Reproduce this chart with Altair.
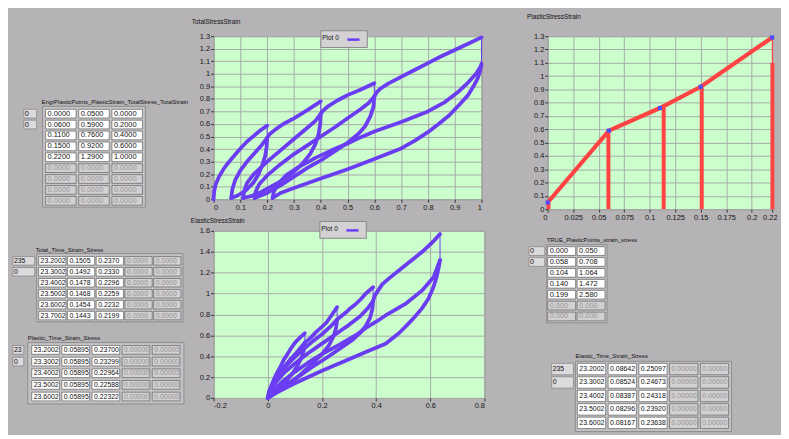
import altair as alt
import pandas as pd

PURPLE = "#6a3df2"
RED = "#ff4242"
BLUE = "#4d4dff"
GREEN = "#ccfdcc"
BG = "#b5b3b5"
FONT = "Liberation Sans"

# ---------------- TotalStressStrain (strain, stress) in time order ----------------
tot_load1 = [(0.0, 0.0), (0.002, 0.06), (0.008, 0.12), (0.02, 0.18), (0.04, 0.25), (0.06, 0.305),
             (0.08, 0.355), (0.1, 0.405), (0.125, 0.46), (0.15, 0.505), (0.175, 0.55), (0.2, 0.587)]
tot_unload1 = [(0.2, 0.49), (0.198, 0.42), (0.193, 0.35), (0.183, 0.28), (0.168, 0.2), (0.148, 0.13),
               (0.12, 0.07), (0.09, 0.03), (0.066, 0.01)]
tot_reload1 = [(0.066, 0.01), (0.07, 0.08), (0.08, 0.15), (0.1, 0.23), (0.125, 0.3), (0.15, 0.36),
               (0.175, 0.42), (0.2, 0.49)]
tot_load2 = [(0.2, 0.49), (0.21, 0.52), (0.23, 0.555), (0.26, 0.6), (0.3, 0.645), (0.35, 0.71), (0.4, 0.78)]
tot_unload2 = [(0.4, 0.68), (0.398, 0.6), (0.392, 0.52), (0.38, 0.44), (0.36, 0.36), (0.33, 0.28),
               (0.29, 0.2), (0.24, 0.13), (0.18, 0.06), (0.14, 0.025), (0.11, 0.01)]
tot_reload2 = [(0.11, 0.01), (0.115, 0.07), (0.125, 0.13), (0.15, 0.2), (0.2, 0.3), (0.25, 0.39),
               (0.3, 0.48), (0.35, 0.57), (0.38, 0.625), (0.4, 0.68)]
tot_load3 = [(0.4, 0.68), (0.41, 0.71), (0.43, 0.745), (0.46, 0.785), (0.5, 0.83), (0.55, 0.875), (0.6, 0.925)]
tot_unload3 = [(0.6, 0.82), (0.597, 0.74), (0.585, 0.66), (0.565, 0.58), (0.54, 0.52), (0.5, 0.45),
               (0.45, 0.38), (0.4, 0.31), (0.35, 0.25), (0.3, 0.18), (0.25, 0.11), (0.2, 0.05), (0.153, 0.01)]
tot_reload3 = [(0.153, 0.01), (0.157, 0.06), (0.17, 0.12), (0.2, 0.19), (0.25, 0.28), (0.3, 0.36),
               (0.35, 0.43), (0.4, 0.5), (0.45, 0.57), (0.5, 0.645), (0.55, 0.72), (0.58, 0.77), (0.6, 0.82)]
tot_load4 = [(0.6, 0.82), (0.61, 0.855), (0.625, 0.885), (0.65, 0.92), (0.7, 0.975), (0.75, 1.03),
             (0.8, 1.085), (0.85, 1.14), (0.9, 1.19), (0.95, 1.24), (1.0, 1.29)]
tot_unload4 = [(1.0, 1.08), (0.995, 1.02), (0.985, 0.96), (0.97, 0.9), (0.95, 0.83), (0.92, 0.76),
               (0.88, 0.67), (0.84, 0.6), (0.8, 0.535), (0.75, 0.465), (0.7, 0.405), (0.6, 0.32),
               (0.5, 0.24), (0.4, 0.165), (0.3, 0.09), (0.25, 0.05), (0.22, 0.01)]
tot_reload4 = [(0.22, 0.01), (0.225, 0.06), (0.24, 0.12), (0.27, 0.19), (0.32, 0.26), (0.38, 0.33),
               (0.44, 0.39), (0.5, 0.445), (0.55, 0.495), (0.6, 0.54), (0.7, 0.615), (0.8, 0.7),
               (0.86, 0.77), (0.91, 0.85), (0.95, 0.93), (0.98, 1.0), (1.0, 1.07)]
total_segments = [tot_load1, tot_unload1, tot_reload1, tot_load2, tot_unload2, tot_reload2,
                  tot_load3, tot_unload3, tot_reload3, tot_load4, tot_unload4, tot_reload4]

# ---------------- ElasticStressStrain ----------------
el_load1 = [(0.0, 0.0), (0.005, 0.07), (0.015, 0.13), (0.025, 0.19), (0.035, 0.245), (0.047, 0.3),
            (0.058, 0.36), (0.07, 0.41), (0.082, 0.46), (0.095, 0.51), (0.106, 0.545), (0.12, 0.58), (0.137, 0.62)]
el_unload1 = [(0.137, 0.53), (0.133, 0.46), (0.125, 0.39), (0.11, 0.31), (0.09, 0.23), (0.065, 0.15),
              (0.04, 0.08), (0.015, 0.03), (0.0, 0.0)]
el_reload1 = [(0.0, 0.0), (0.008, 0.07), (0.02, 0.14), (0.035, 0.21), (0.055, 0.28), (0.08, 0.36),
              (0.105, 0.43), (0.137, 0.53)]
el_load2 = [(0.137, 0.53), (0.16, 0.58), (0.18, 0.635), (0.2, 0.68), (0.216, 0.72), (0.235, 0.79), (0.256, 0.87)]
el_unload2 = [(0.256, 0.75), (0.252, 0.67), (0.243, 0.59), (0.225, 0.5), (0.2, 0.42), (0.165, 0.33),
              (0.12, 0.22), (0.07, 0.12), (0.03, 0.05), (0.0, 0.0)]
el_reload2 = [(0.0, 0.0), (0.01, 0.08), (0.025, 0.16), (0.05, 0.25), (0.08, 0.34), (0.12, 0.44),
              (0.16, 0.53), (0.2, 0.61), (0.23, 0.68), (0.256, 0.75)]
el_load3 = [(0.256, 0.75), (0.27, 0.78), (0.289, 0.82), (0.305, 0.86), (0.325, 0.9), (0.345, 0.95),
            (0.362, 1.0), (0.389, 1.06)]
el_unload3 = [(0.389, 0.93), (0.386, 0.85), (0.378, 0.77), (0.362, 0.69), (0.34, 0.62), (0.31, 0.55),
              (0.27, 0.48), (0.22, 0.39), (0.16, 0.29), (0.1, 0.18), (0.05, 0.09), (0.02, 0.04), (0.0, 0.0)]
el_reload3 = [(0.0, 0.0), (0.01, 0.07), (0.03, 0.15), (0.06, 0.24), (0.1, 0.33), (0.15, 0.43),
              (0.2, 0.52), (0.25, 0.61), (0.3, 0.7), (0.34, 0.78), (0.37, 0.86), (0.389, 0.93)]
el_load4 = [(0.389, 0.93), (0.395, 0.98), (0.41, 1.04), (0.423, 1.09), (0.45, 1.15), (0.484, 1.22),
            (0.515, 1.285), (0.544, 1.345), (0.57, 1.4), (0.593, 1.455), (0.615, 1.51), (0.636, 1.57)]
el_unload4 = [(0.636, 1.32), (0.632, 1.26), (0.623, 1.155), (0.61, 1.05), (0.593, 0.95), (0.57, 0.86),
              (0.544, 0.78), (0.515, 0.7), (0.484, 0.62), (0.435, 0.52), (0.362, 0.44), (0.3, 0.37),
              (0.2, 0.26), (0.1, 0.14), (0.04, 0.06), (0.0, 0.0)]
el_reload4 = [(0.0, 0.0), (0.02, 0.07), (0.06, 0.17), (0.1, 0.25), (0.15, 0.34), (0.2, 0.42),
              (0.265, 0.51), (0.33, 0.61), (0.362, 0.67), (0.4, 0.73), (0.435, 0.79), (0.508, 0.9),
              (0.57, 1.03), (0.612, 1.155), (0.63, 1.28), (0.636, 1.32)]
elastic_segments = [el_load1, el_unload1, el_reload1, el_load2, el_unload2, el_reload2,
                    el_load3, el_unload3, el_reload3, el_load4, el_unload4, el_reload4]

# ---------------- Plastic stress-strain ----------------
engr_plastic_strain = [0.0, 0.06, 0.11, 0.15, 0.22]
engr_total_stress = [0.05, 0.59, 0.76, 0.92, 1.29]
engr_total_strain = [0.0, 0.2, 0.4, 0.6, 1.0]
unload_bar_strain = [0.0008, 0.0595, 0.1137, 0.151, 0.2203]
unload_bar_top = [0.05, 0.585, 0.765, 0.915, 1.1]
relax_strain = [0.2203]
relax_low = [1.1]
relax_high = [1.29]

# ---------------- tables ----------------
total_time = [23.2002, 23.3002, 23.4002, 23.5002, 23.6002, 23.7002]
total_strain = [0.1505, 0.1492, 0.1478, 0.1468, 0.1454, 0.1443]
total_stress = [0.2370, 0.2330, 0.2296, 0.2259, 0.2232, 0.2199]
plastic_time = [23.2002, 23.3002, 23.4002, 23.5002, 23.6002]
plastic_strain = [0.058953, 0.058953, 0.058953, 0.058953, 0.058953]
plastic_stress = [0.237005, 0.232993, 0.229644, 0.225889, 0.223227]
elastic_time = [23.2002, 23.3002, 23.4002, 23.5002, 23.6002]
elastic_strain = [0.086420, 0.085243, 0.083873, 0.082963, 0.081670]
elastic_stress = [0.250973, 0.246732, 0.243182, 0.239202, 0.236380]
true_strain = [0.000, 0.058, 0.104, 0.140, 0.199]
true_stress = [0.050, 0.708, 1.064, 1.472, 2.580]

total_x_ticks = [0, 0.1, 0.2, 0.3, 0.4, 0.5, 0.6, 0.7, 0.8, 0.9, 1]
total_y_ticks = [0, 0.1, 0.2, 0.3, 0.4, 0.5, 0.6, 0.7, 0.8, 0.9, 1, 1.1, 1.2, 1.3]
elastic_x_ticks = [-0.2, 0, 0.2, 0.4, 0.6, 0.8]
elastic_y_ticks = [0, 0.2, 0.4, 0.6, 0.8, 1, 1.2, 1.4, 1.6]
plastic_x_ticks = [0, 0.025, 0.05, 0.075, 0.1, 0.125, 0.15, 0.175, 0.2, 0.22]
plastic_y_ticks = total_y_ticks


def spacer(w, h):
    return alt.Chart(alt.Data(values=[])).mark_point().encode(
        x=alt.X("v:Q", axis=None), y=alt.Y("v:Q", axis=None)
    ).properties(width=w, height=h, view=alt.ViewBackground(stroke=None, fill=None))


def seg_frame(segments):
    rows = []
    i = 0
    for k, seg in enumerate(segments):
        for e, s in seg:
            rows.append({"strain": e, "stress": s, "seg": k, "i": i, "series": "Plot 0"})
            i += 1
    return pd.DataFrame(rows)


def axis(vals, **kw):
    return alt.Axis(values=vals, labelExpr="'' + datum.value", title=None, labelOverlap=False, **kw)


def plot_title(text, dx, offset):
    return alt.TitleParams(text=text, anchor="start", frame="group", dx=dx, offset=offset,
                           fontSize=6.5, font=FONT, fontWeight="normal", color="#111111")


def curve_plot(segments, xdom, ydom, xt, yt, w, h, title, tdx, toff, lx, ly):
    df = seg_frame(segments)
    x = alt.X("strain:Q", scale=alt.Scale(domain=xdom, nice=False, zero=False), axis=axis(xt))
    y = alt.Y("stress:Q", scale=alt.Scale(domain=ydom, nice=False, zero=False), axis=axis(yt))
    thin = alt.Chart(df).mark_line(strokeWidth=1, color=PURPLE).encode(x=x, y=y, order="i:Q")
    thick = alt.Chart(df).mark_line(strokeWidth=3.8, strokeCap="round", strokeJoin="round").encode(
        x=x, y=y, order="i:Q", detail="seg:N",
        color=alt.Color("series:N", scale=alt.Scale(range=[PURPLE]),
                        legend=alt.Legend(orient="none", legendX=lx, legendY=ly, title="Plot 0",
                                          titleOrient="left", titleFontSize=6.5, titleFont=FONT,
                                          titleFontWeight="normal", titleColor="#111111",
                                          titlePadding=7, labelExpr="''", labelLimit=1, labelOffset=0,
                                          symbolStrokeWidth=2.5, symbolSize=150, symbolType="stroke",
                                          fillColor="#d3d1d3", strokeColor="#8a8a8a", padding=2)))
    return alt.layer(thin, thick).properties(
        width=w, height=h, title=plot_title(title, tdx, toff),
        view=alt.ViewBackground(fill=GREEN, stroke="#8d8d8d"))


def plastic_plot(w, h):
    x_sc = alt.Scale(domain=[0, 0.22], nice=False, zero=False)
    y_sc = alt.Scale(domain=[0, 1.3], nice=False, zero=False)
    x_ax = axis(plastic_x_ticks, labelFlush=True, labelFlushOffset=5)
    y_ax = axis(plastic_y_ticks)
    pts = pd.DataFrame({"strain": engr_plastic_strain, "stress": engr_total_stress})
    bars = pd.DataFrame({"strain": unload_bar_strain, "stress": unload_bar_top,
                         "base": [0.0] * len(unload_bar_strain)})
    relax = pd.DataFrame({"strain": relax_strain, "stress": relax_low, "hi": relax_high})
    x = alt.X("strain:Q", scale=x_sc, axis=x_ax)
    y = alt.Y("stress:Q", scale=y_sc, axis=y_ax)
    path = alt.Chart(pts).mark_line(color=RED, strokeWidth=4.2).encode(x=x, y=y)
    bar = alt.Chart(bars).mark_rule(color=RED, strokeWidth=4).encode(x=x, y=y, y2="base:Q")
    thin = alt.Chart(relax).mark_rule(color=RED, strokeWidth=1.2).encode(x=x, y=y, y2="hi:Q")
    marks = alt.Chart(pts).mark_square(color=BLUE, size=18, opacity=1).encode(x=x, y=y)
    return alt.layer(path, bar, thin, marks).properties(
        width=w, height=h, title=plot_title("PlasticStressStrain", -21, 9),
        view=alt.ViewBackground(fill=GREEN, stroke="#8d8d8d"))


def band_width(rng, n, pin):
    step = (rng[1] - rng[0]) / (n - pin)
    return step * (1 - pin)


def band(domain, rng, pin):
    return alt.Scale(type="band", domain=domain, range=rng, paddingInner=pin, paddingOuter=0)


def table(rows, active_cols, n_active_rows, frame_x, frame_y, cell_xr, cell_yr, pin_x, pin_y,
          idx, idx_xr, title, title_xy, fsize=7):
    nrows, ncols = len(rows), len(rows[0])
    recs = []
    for r, row in enumerate(rows):
        for c, txt in enumerate(row):
            act = (c in active_cols) and (r < n_active_rows)
            recs.append({"r": r, "c": c, "txt": txt,
                         "fillc": "#ffffff" if act else "#d2d0d2",
                         "tc": "#111111" if act else "#959395"})
    df = pd.DataFrame(recs)
    bw = band_width(cell_xr, ncols, pin_x)
    xs = band(list(range(ncols)), cell_xr, pin_x)
    ys = band(list(range(nrows)), cell_yr, pin_y)
    y = alt.Y("r:O", scale=ys, axis=None)
    frame = alt.Chart(alt.Data(values=[{"f": "f"}])).mark_rect(
        fill="#c4c2c4", stroke="#8e8c8e", strokeWidth=1).encode(
        x=alt.X("f:N", scale=band(["f"], frame_x, 0), axis=None),
        y=alt.Y("f:N", scale=band(["f"], frame_y, 0), axis=None))
    rect = alt.Chart(df).mark_rect(stroke="#707070", strokeWidth=0.8).encode(
        x=alt.X("c:O", scale=xs, axis=None), y=y, fill=alt.Fill("fillc:N", scale=None))
    text = alt.Chart(df).mark_text(align="left", baseline="middle", fontSize=fsize, font=FONT, dx=2,
                                   limit=bw - 0.5, ellipsis=" ").encode(
        x=alt.X("c:O", scale=xs, axis=None, bandPosition=0), y=y, text="txt:N",
        color=alt.Color("tc:N", scale=None))
    idf = pd.DataFrame({"r": list(range(len(idx))), "ix": ["i"] * len(idx), "txt": idx})
    ixs = band(["i"], idx_xr, 0)
    irect = alt.Chart(idf).mark_rect(fill="#dcdadc", stroke="#8a888a", strokeWidth=0.8).encode(
        x=alt.X("ix:N", scale=ixs, axis=None), y=y)
    itext = alt.Chart(idf).mark_text(align="left", baseline="middle", fontSize=fsize, font=FONT, dx=1,
                                     limit=idx_xr[1] - idx_xr[0] - 1, ellipsis=" ").encode(
        x=alt.X("ix:N", scale=ixs, axis=None, bandPosition=0), y=y, text="txt:N",
        color=alt.value("#111111"))
    tx, ty = title_xy
    ttl = alt.Chart(alt.Data(values=[{"k": "k", "t": title}])).mark_text(
        align="left", baseline="bottom", fontSize=6, font=FONT, color="#111111").encode(
        x=alt.X("k:N", scale=band(["k"], [tx, tx + 1], 0), axis=None, bandPosition=0),
        y=alt.Y("k:N", scale=band(["k"], [ty, ty + 1], 0), axis=None, bandPosition=0),
        text="t:N")
    return alt.layer(frame, rect, text, irect, itext, ttl).resolve_scale(x="independent", y="independent")


def f4(v):
    return f"{v:.4f}"


def f6(v):
    return f"{v:.6f}"


engr_rows = [[f4(a), f4(b), f4(c)] for a, b, c in zip(engr_plastic_strain, engr_total_stress, engr_total_strain)]
engr_rows += [["0.0000"] * 3 for _ in range(4)]
tot_rows = [[f4(a), f4(b), f4(c), "0.0000", "0.0000"] for a, b, c in zip(total_time, total_strain, total_stress)]
pl_rows = [[f4(a), f6(b), f6(c), "0.000000", "0.000000"] for a, b, c in zip(plastic_time, plastic_strain, plastic_stress)]
el_rows = [[f4(a), f6(b), f6(c), "0.000000", "0.000000"] for a, b, c in zip(elastic_time, elastic_strain, elastic_stress)]
true_rows = [[f"{a:.3f}", f"{b:.3f}"] for a, b in zip(true_strain, true_stress)]
true_rows += [["0.000", "0.000"] for _ in range(2)]

# grid geometry (page px): columns start at 8, 216, 554 ; rows start at 8, 34, 209, 231, 400
LW, MW, RW = 208, 338, 235
H0, H1, H2, H3, H4 = 26, 175, 22, 169, 31
NOVIEW = alt.ViewBackground(fill=None, stroke=None)

# cell (row1, left): origin (8, 34)
t_engr = table(engr_rows, [0, 1, 2], 5, [35, 139], [71, 173], [38, 136], [74, 171], 0.08, 0.2,
               ["0", "0"], [16, 29], "EngrPlasticPoints_PlasticStrain_TotalStress_TotalStrain", (34, 70),
               fsize=7.5)
cell_a = t_engr.properties(width=LW, height=H1, view=NOVIEW)

# cell (row3, left): origin (8, 231)
t_total = table(tot_rows, [0, 1, 2], 6, [29, 177], [23, 92], [31, 175], [26, 90], 0.05, 0.22,
                ["235", "0"], [5, 27], "Total_Time_Strain_Stress", (28, 22))
t_plastic = table(pl_rows, [0, 1, 2], 5, [20, 178], [113, 175], [24, 174], [116, 172], 0.08, 0.25,
                  ["235", "0"], [5, 16], "Plastic_Time_Strain_Stress", (20, 111))
cell_b = alt.layer(t_total, t_plastic).resolve_scale(x="independent", y="independent").properties(
    width=LW, height=H3, view=NOVIEW)

# cell (row3, right): origin (554, 231)
t_true = table(true_rows, [0, 1], 5, [-1, 60], [14, 93], [0, 58], [16, 91], 0.05, 0.2,
               ["0", "0"], [-19, -3], "TRUE_PlasticPoints_strain_stress", (-1, 12), fsize=7.5)
t_elastic = table(el_rows, [0, 1, 2], 5, [28, 186], [132, 203], [30, 183], [134, 200], 0.08, 0.15,
                  ["235", "0"], [4, 26], "Elastic_Time_Strain_Stress", (28, 130))
cell_c = alt.layer(t_true, t_elastic).resolve_scale(x="independent", y="independent").properties(
    width=RW, height=H3, view=NOVIEW)

total_plot = curve_plot(total_segments, [0, 1], [0, 1.3], total_x_ticks, total_y_ticks, 271, 165,
                        "TotalStressStrain", -22, 4, 108, -6)
elastic_plot = curve_plot(elastic_segments, [-0.2, 0.8], [0, 1.6], elastic_x_ticks, elastic_y_ticks, 274, 169,
                          "ElasticStressStrain", -23, -4, 107, -10)

cells = [
    spacer(LW, H0), spacer(MW, H0), spacer(RW, H0),
    cell_a, total_plot, plastic_plot(227, 175),
    spacer(LW, H2), spacer(MW, H2), spacer(RW, H2),
    cell_b, elastic_plot, cell_c,
    spacer(LW, H4), spacer(MW, H4), spacer(RW, H4),
]

chart = alt.concat(*cells, columns=3, spacing=0, bounds="flush", align="each").resolve_scale(
    x="independent", y="independent", color="independent").resolve_legend(color="independent").properties(
    padding=0, background=BG).configure(font=FONT).configure_view(stroke=None).configure_axis(
    labelFont=FONT, labelFontSize=7.5, labelColor="#151515", tickColor="#333333", tickSize=3,
    domain=False, grid=True, gridColor="#a9aba9", gridWidth=1, gridOpacity=1, labelPadding=1
)

chart.save("out.html", embed_options={"renderer": "svg", "actions": False})
